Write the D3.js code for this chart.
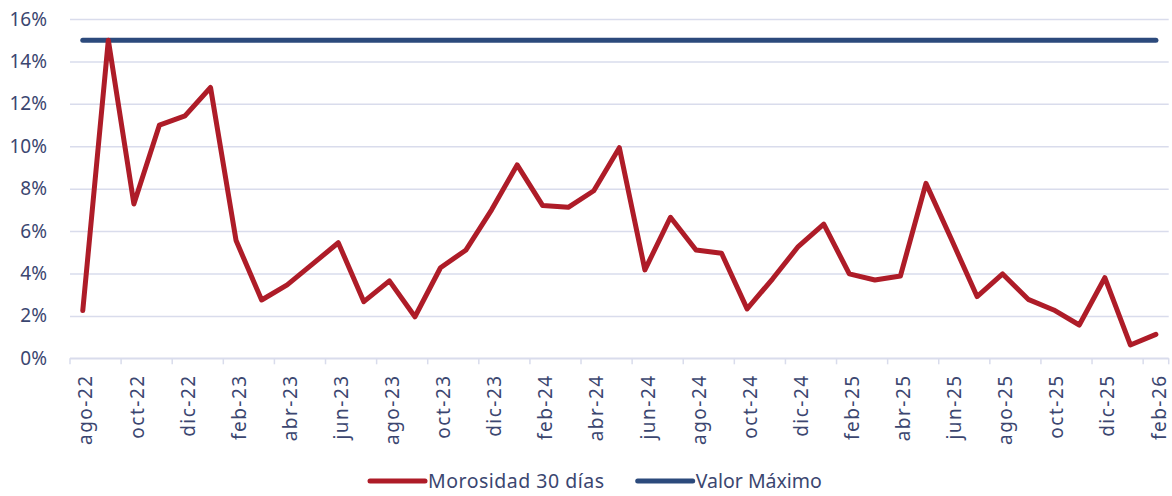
<!DOCTYPE html>
<html>
<head>
<meta charset="utf-8">
<script src="https://cdn.jsdelivr.net/npm/d3@7"></script>
<style>
  body { margin: 0; background: #fff; }
  svg text { font-family: "Noto Sans", sans-serif; fill: #3b4670; }
</style>
</head>
<body>
<div id="chart"></div>
<script>
// Monthly categories (ago-22 .. feb-26)
const months = [
  "ago-22", "sep-22", "oct-22", "nov-22", "dic-22",
  "ene-23", "feb-23", "mar-23", "abr-23", "may-23", "jun-23", "jul-23",
  "ago-23", "sep-23", "oct-23", "nov-23", "dic-23",
  "ene-24", "feb-24", "mar-24", "abr-24", "may-24", "jun-24", "jul-24",
  "ago-24", "sep-24", "oct-24", "nov-24", "dic-24",
  "ene-25", "feb-25", "mar-25", "abr-25", "may-25", "jun-25", "jul-25",
  "ago-25", "sep-25", "oct-25", "nov-25", "dic-25",
  "ene-26", "feb-26"
];

// Morosidad 30 días (%)
const morosidad = [
  2.25, 15.0, 7.28, 11.0, 11.43,
  12.77, 5.55, 2.75, 3.46, 4.45, 5.45, 2.67,
  3.65, 1.96, 4.27, 5.11, 7.0,
  9.12, 7.2, 7.12, 7.9, 9.93, 4.17, 6.65,
  5.11, 4.95, 2.33, 3.75, 5.27,
  6.33, 3.98, 3.69, 3.88, 8.25, 5.6, 2.91,
  3.98, 2.78, 2.28, 1.57, 3.8,
  0.63, 1.13
];

// Valor Máximo (%)
const valorMaximo = months.map(() => 15);

const yTicks = [0, 2, 4, 6, 8, 10, 12, 14, 16];

const seriesNames = ["Morosidad 30 días", "Valor Máximo"];
const seriesColors = ["#ae1c28", "#2c4a7c"];

const width = 1172, height = 496;
const plotLeft = 70, plotRight = 1168.7, plotTop = 19, plotBottom = 358.3;

const svg = d3.select("#chart").append("svg")
    .attr("width", width)
    .attr("height", height);

const x = d3.scaleBand()
    .domain(months)
    .range([plotLeft, plotRight])
    .padding(0);

const y = d3.scaleLinear()
    .domain([0, 16])
    .range([plotBottom, plotTop]);

const bw = x.bandwidth();

// Gridlines + y labels
const yAxis = svg.append("g")
    .attr("transform", `translate(${plotLeft},0)`)
    .call(d3.axisLeft(y)
        .tickValues(yTicks)
        .tickSize(-(plotRight - plotLeft))
        .tickPadding(23)
        .tickFormat(d => d + "%"));
yAxis.select(".domain").remove();
yAxis.selectAll(".tick line")
    .attr("stroke", "#d9dcec")
    .attr("stroke-width", 1.5);
yAxis.selectAll(".tick text")
    .attr("font-size", 19)
    .attr("fill", "#3b4670");

// x axis: tick marks between categories, every 2 months
const tickCats = months.filter((d, i) => i % 2 === 0);
const xAxis = svg.append("g");
xAxis.append("line")
    .attr("x1", plotLeft).attr("x2", plotRight)
    .attr("y1", y(0)).attr("y2", y(0))
    .attr("stroke", "#d9dcec")
    .attr("stroke-width", 1.5);
xAxis.selectAll("line.tk")
    .data(tickCats.map(d => x(d)).concat([plotRight]))
    .enter().append("line")
    .attr("class", "tk")
    .attr("x1", d => d).attr("x2", d => d)
    .attr("y1", y(0)).attr("y2", y(0) + 6)
    .attr("stroke", "#d9dcec")
    .attr("stroke-width", 1.5);
xAxis.selectAll("text")
    .data(tickCats)
    .enter().append("text")
    .attr("transform", d => `translate(${x(d) + bw / 2 + 3},${y(0) + 16}) rotate(-90)`)
    .attr("text-anchor", "end")
    .attr("dy", "0.35em")
    .attr("font-size", 19)
    .attr("letter-spacing", 1.5)
    .text(d => d);

// Lines
const line = d3.line()
    .x((d, i) => x(months[i]) + bw / 2)
    .y(d => y(d));

svg.append("path")
    .datum(valorMaximo)
    .attr("fill", "none")
    .attr("stroke", seriesColors[1])
    .attr("stroke-width", 5)
    .attr("stroke-linecap", "round")
    .attr("d", line);

svg.append("path")
    .datum(morosidad)
    .attr("fill", "none")
    .attr("stroke", seriesColors[0])
    .attr("stroke-width", 5)
    .attr("stroke-linejoin", "round")
    .attr("stroke-linecap", "round")
    .attr("d", line);

// Legend
const legendX = [370, 637.7];
const legend = svg.append("g");
seriesNames.forEach((name, i) => {
    legend.append("line")
        .attr("x1", legendX[i]).attr("x2", legendX[i] + 55)
        .attr("y1", 481).attr("y2", 481)
        .attr("stroke", seriesColors[i])
        .attr("stroke-width", 5)
        .attr("stroke-linecap", "round");
    legend.append("text")
        .attr("x", legendX[i] + 58)
        .attr("y", 481)
        .attr("dy", "0.35em")
        .attr("font-size", 19.5)
        .attr("letter-spacing", i === 0 ? 0.5 : 0)
        .text(name);
});
</script>
</body>
</html>
